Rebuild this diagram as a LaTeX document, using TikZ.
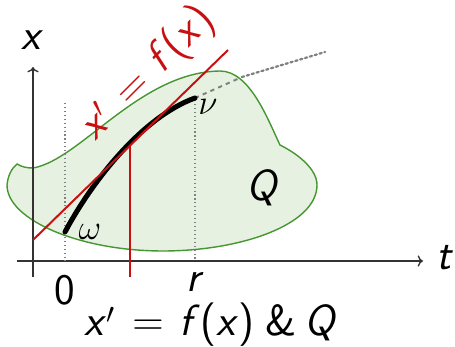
\documentclass[tikz,border=0pt]{standalone}
\usepackage{tikz}
\usetikzlibrary{arrows.meta}
\definecolor{vertBord}{RGB}{70,150,50}
\definecolor{vertFond}{RGB}{230,241,226}
\definecolor{rougeTan}{RGB}{200,16,16}
\newcommand{\sv}[1]{{\slshape #1\/}}
\newcommand{\egal}{\hspace{0.4em}=\hspace{0.35em}}

\begin{document}
\begin{tikzpicture}[x=0.025cm, y=-0.025cm, font=\fontsize{31}{36}\selectfont\sffamily,
  axe/.style={->, line width=1pt, black!80},
  repere/.style={dotted, gray, line width=0.8pt}]
\useasboundingbox (0,0) rectangle (455,347);

% region Q
\draw[fill=vertFond, draw=vertBord, line width=1pt]
  (7,185) .. controls (8,175) and (12,168) .. (17,164)
  .. controls (22,167) and (27,168) .. (33,168)
  .. controls (80,160) and (140,72) .. (220,71)
  .. controls (250,71) and (268,120) .. (280,145)
  .. controls (300,155) and (317,170) .. (317,185)
  .. controls (317,225) and (240,251) .. (163,251)
  .. controls (80,251) and (7,220) .. (7,185);
\node (q) at (263,188) {\sv{Q}};

% axes
\draw[axe] (33,277) -- (33,67) coordinate (xhaut);
\draw[axe] (17,261) -- (423,261) coordinate (tdroite);
\node (xlab) at (33,40) {\sv{x}};
\node (tlab) at (445,258) {\sv{t}};

% reperes 0 et r
\draw[repere] (65,103) -- (65,261);
\draw[repere] (195,100) -- (195,261);
\node (zero) at (65,290) {0};
\node (rlab) at (195,282) {\sv{r}};

% solution
\coordinate (w) at (65,232);
\coordinate (v) at (195,98);
\draw[gray, dashed, line width=1.4pt] (v) -- (242,77) coordinate (fin);
\draw[gray, dotted, line width=1.6pt, line cap=round] (fin) -- (325,52);
\draw[line width=3.6pt, line cap=round] (w) .. controls (90,185) and (140,118) .. (v);
\node (omega) at (90,232) {$\omega$};
\node (nu) at (208,107) {$\nu$};

% tangente
\draw[rougeTan, line width=1.4pt] (33,240) -- (228,50);
\draw[rougeTan, line width=1.4pt] (130,146) -- (130,277);
\node[rougeTan, rotate=45, anchor=base west, inner sep=0pt] (eq) at (95,142)
  {\sv{x}$'$\egal\sv{f}(\sv{x})};

\node (titre) at (211,325) {\sv{x}$'$\egal\sv{f}(\sv{x})\hspace{0.25em}\&\hspace{0.2em}\sv{Q}};
\end{tikzpicture}
\end{document}
